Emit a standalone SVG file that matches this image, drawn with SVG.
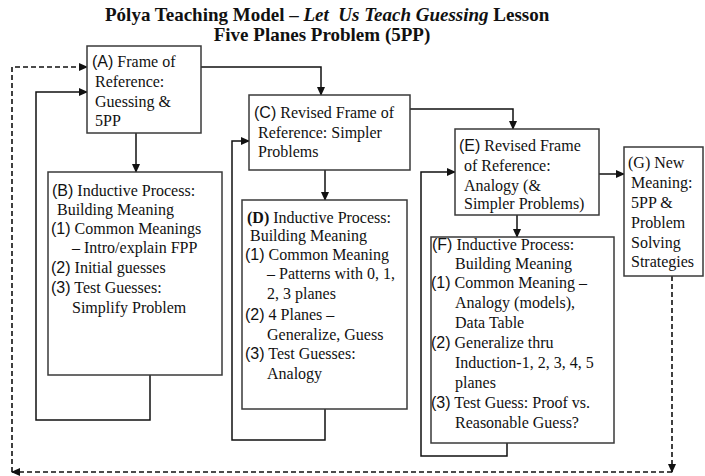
<svg xmlns="http://www.w3.org/2000/svg" width="705" height="476" viewBox="0 0 705 476">
  <style>
    .box { fill: #ffffff; stroke: #3a3a3a; stroke-width: 1.5; }
    .serif { font-family: "Liberation Serif", "Times New Roman", "DejaVu Serif", serif; font-size: 16px; fill: #111; }
    .lbl { font-family: "Liberation Sans", Arial, sans-serif; font-size: 16px; }
    .title { font-family: "Liberation Serif", "Times New Roman", serif; font-size: 19px; font-weight: bold; fill: #111; }
    .conn { fill: none; stroke: #111; stroke-width: 1.5; }
    .dash { fill: none; stroke: #111; stroke-width: 1.6; stroke-dasharray: 5 3; }
  </style>
  <defs>
    <marker id="arrow" markerUnits="userSpaceOnUse" markerWidth="9" markerHeight="8" refX="8" refY="4" orient="auto">
      <path d="M0,0 L9,4 L0,8 Z" fill="#111"/>
    </marker>
  </defs>
  <rect width="705" height="476" fill="#ffffff"/>

  <!-- Title -->
  <g id="title">
    <text class="title" x="105" y="21" xml:space="preserve">Pólya Teaching Model – <tspan font-style="italic">Let  Us Teach Guessing</tspan> Lesson</text>
    <text class="title" x="322" y="41" text-anchor="middle">Five Planes Problem (5PP)</text>
  </g>

  <!-- Connectors -->
  <g id="connectors">
    <path class="conn" d="M136,133 V172" marker-end="url(#arrow)"/>
    <path class="conn" d="M201,67 H321 V95" marker-end="url(#arrow)"/>
    <path class="conn" d="M325,170 V200" marker-end="url(#arrow)"/>
    <path class="conn" d="M410,109 H513 V129" marker-end="url(#arrow)"/>
    <path class="conn" d="M517,215 V237" marker-end="url(#arrow)"/>
    <path class="conn" d="M599,174 H624" marker-end="url(#arrow)"/>
    <path class="conn" d="M150,375 V420 H36 V92 H87" marker-end="url(#arrow)"/>
    <path class="conn" d="M325,409 V440 H232 V141 H249" marker-end="url(#arrow)"/>
    <path class="conn" d="M507,443 V456 H421 V172 H455" marker-end="url(#arrow)"/>
    <path class="dash" d="M672,276 V472" marker-end="url(#arrow)"/>
    <path class="dash" d="M672,472 H12" marker-end="url(#arrow)"/>
    <path class="dash" d="M12,472 V67 H87" marker-end="url(#arrow)"/>
  </g>

  <!-- (A) -->
  <g id="node-a" class="serif">
    <rect class="box" x="87" y="46" width="114" height="87"/>
    <text x="92" y="67"><tspan class="lbl">(A)</tspan> Frame of</text>
    <text x="95" y="87">Reference:</text>
    <text x="95" y="107">Guessing &amp;</text>
    <text x="95" y="126">5PP</text>
  </g>

  <!-- (B) -->
  <g id="node-b" class="serif">
    <rect class="box" x="48" y="172" width="174" height="203"/>
    <text x="52" y="196"><tspan class="lbl">(B)</tspan> Inductive Process:</text>
    <text x="57" y="215">Building Meaning</text>
    <text x="51" y="234"><tspan class="lbl">(1)</tspan> Common Meanings</text>
    <text x="72" y="253">– Intro/explain FPP</text>
    <text x="51" y="273"><tspan class="lbl">(2)</tspan> Initial guesses</text>
    <text x="51" y="293"><tspan class="lbl">(3)</tspan> Test Guesses:</text>
    <text x="72" y="313">Simplify Problem</text>
  </g>

  <!-- (C) -->
  <g id="node-c" class="serif">
    <rect class="box" x="249" y="95" width="161" height="75"/>
    <text x="254" y="118"><tspan class="lbl">(C)</tspan> Revised Frame of</text>
    <text x="258" y="138">Reference: Simpler</text>
    <text x="258" y="157">Problems</text>
  </g>

  <!-- (D) -->
  <g id="node-d" class="serif">
    <rect class="box" x="242" y="200" width="165" height="209"/>
    <text x="247" y="223"><tspan font-weight="bold">(D)</tspan> Inductive Process:</text>
    <text x="250" y="241">Building Meaning</text>
    <text x="245" y="260"><tspan class="lbl">(1)</tspan> Common Meaning</text>
    <text x="267" y="279">– Patterns with 0, 1,</text>
    <text x="267" y="299">2, 3 planes</text>
    <text x="245" y="320"><tspan class="lbl">(2)</tspan> 4 Planes –</text>
    <text x="267" y="340">Generalize, Guess</text>
    <text x="245" y="359"><tspan class="lbl">(3)</tspan> Test Guesses:</text>
    <text x="267" y="379">Analogy</text>
  </g>

  <!-- (E) -->
  <g id="node-e" class="serif">
    <rect class="box" x="455" y="129" width="144" height="86"/>
    <text x="459" y="151"><tspan class="lbl">(E)</tspan> Revised Frame</text>
    <text x="464" y="171">of Reference:</text>
    <text x="464" y="191">Analogy (&amp;</text>
    <text x="464" y="209">Simpler Problems)</text>
  </g>

  <!-- (F) -->
  <g id="node-f" class="serif">
    <rect class="box" x="431" y="237" width="183" height="206"/>
    <text x="432" y="250"><tspan class="lbl">(F)</tspan> Inductive Process:</text>
    <text x="455" y="269">Building Meaning</text>
    <text x="431" y="288"><tspan class="lbl">(1)</tspan> Common Meaning –</text>
    <text x="455" y="308">Analogy (models),</text>
    <text x="455" y="328">Data Table</text>
    <text x="431" y="348"><tspan class="lbl">(2)</tspan> Generalize thru</text>
    <text x="455" y="368">Induction-1, 2, 3, 4, 5</text>
    <text x="455" y="388">planes</text>
    <text x="431" y="408"><tspan class="lbl">(3)</tspan> Test Guess: Proof vs.</text>
    <text x="455" y="428">Reasonable Guess?</text>
  </g>

  <!-- (G) -->
  <g id="node-g" class="serif">
    <rect class="box" x="624" y="147" width="79" height="129"/>
    <text x="628" y="168">(G) New</text>
    <text x="631" y="188">Meaning:</text>
    <text x="631" y="208">5PP &amp;</text>
    <text x="631" y="228">Problem</text>
    <text x="631" y="248">Solving</text>
    <text x="631" y="267">Strategies</text>
  </g>
</svg>
